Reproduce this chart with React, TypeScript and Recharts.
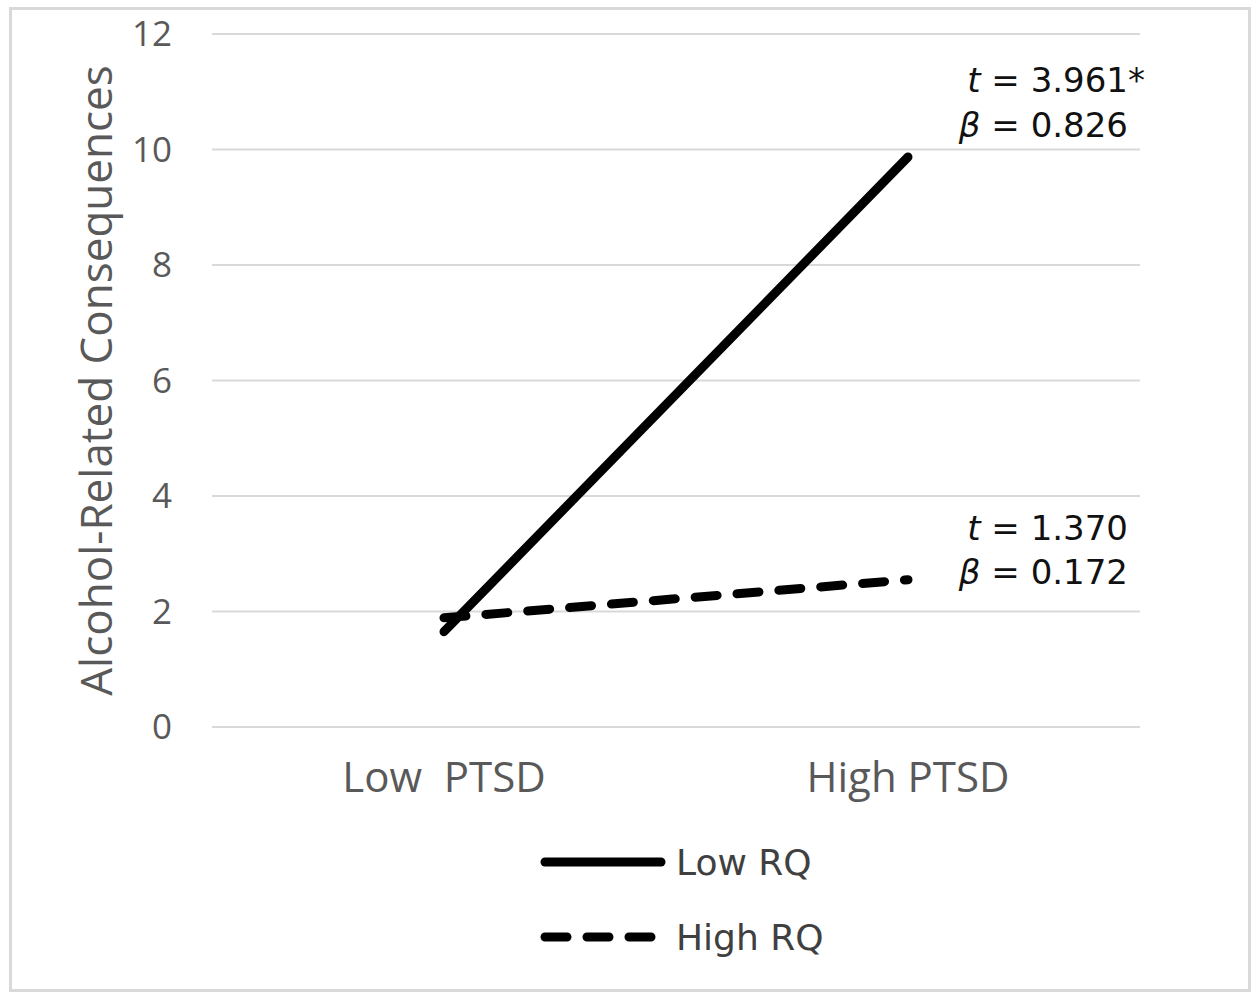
import React from 'react';
import { LineChart, Line, XAxis, YAxis, CartesianGrid, Legend } from 'recharts';

const categories = ['Low\u00a0 PTSD', 'High PTSD'];
const lowRQ = [1.65, 9.87];
const highRQ = [1.89, 2.55];
const yTicks = [0, 2, 4, 6, 8, 10, 12];
const seriesOrder = ['Low RQ', 'High RQ'];

const lowStat = { t: '3.961', star: '*', beta: '0.826' };
const highStat = { t: '1.370', star: '', beta: '0.172' };

const data = categories.map((name, i) => ({ name, low: lowRQ[i], high: highRQ[i] }));

const axisFont = '"Open Sans", sans-serif';
const noteFont = '"DejaVu Sans", sans-serif';

// stat note drawn next to the last point of a series
const makeNote = (stat: typeof lowStat, dy1: number, dy2: number) => (props: any) => {
  const { x, y, index } = props;
  if (index !== data.length - 1) return null;
  const right = x + 220;
  return (
    <g fontFamily={noteFont} fontSize={34} fill="#111">
      <text x={right} y={y + dy1} textAnchor="end">
        <tspan fontStyle="italic">t</tspan> = {stat.t}
      </text>
      {stat.star && (
        <text x={right} y={y + dy1}>{stat.star}</text>
      )}
      <text x={right} y={y + dy2} textAnchor="end">
        <tspan fontStyle="italic">β</tspan> = {stat.beta}
      </text>
    </g>
  );
};

const LegendBox = (props: any) => {
  const items = [...(props.payload || [])].sort(
    (a: any, b: any) => seriesOrder.indexOf(a.value) - seriesOrder.indexOf(b.value)
  );
  return (
    <svg width={400} height={130}>
      {items.map((it: any, i: number) => {
        const y = 27 + i * 75;
        return (
          <g key={it.value}>
            <line
              x1={9}
              x2={i === 0 ? 125 : 115}
              y1={y}
              y2={y}
              stroke="#000"
              strokeWidth={9}
              strokeLinecap="round"
              strokeDasharray={it.payload?.strokeDasharray}
            />
            <text x={140} y={y} dominantBaseline="central" fontFamily={noteFont} fontSize={36} fill="#404040">
              {it.value}
            </text>
          </g>
        );
      })}
    </svg>
  );
};

export default function App() {
  return (
    <div style={{ position: 'absolute', left: 0, top: 0, width: 1260, height: 1001, background: '#fff' }}>
      <div
        style={{
          position: 'absolute',
          left: 9,
          top: 7,
          width: 1242,
          height: 985,
          border: '3px solid #d9d9d9',
          boxSizing: 'border-box',
        }}
      />
      <LineChart width={1260} height={1001} data={data} margin={{ top: 34, right: 120, left: 72, bottom: 214 }}>
        <CartesianGrid vertical={false} stroke="#d9d9d9" strokeWidth={2} />
        <XAxis
          dataKey="name"
          height={60}
          padding={{ left: 232, right: 232 }}
          axisLine={false}
          tickLine={false}
          tickMargin={29}
          tick={{ fill: '#595959', fontSize: 42, fontFamily: axisFont }}
        />
        <YAxis
          width={140}
          domain={[0, 12]}
          ticks={yTicks}
          axisLine={false}
          tickLine={false}
          tickMargin={34}
          tick={{ fill: '#595959', fontSize: 35, fontFamily: axisFont }}
          label={{
            content: (p: any) => {
              const vb = p.viewBox;
              const cx = vb.x + vb.width - 117;
              const cy = vb.y + vb.height / 2;
              return (
                <text
                  x={cx}
                  y={cy}
                  transform={`rotate(-90 ${cx} ${cy})`}
                  textAnchor="middle"
                  dominantBaseline="central"
                  fill="#595959"
                  fontSize={44}
                  fontFamily={axisFont}
                >
                  Alcohol-Related Consequences
                </text>
              );
            },
          }}
        />
        <Legend
          layout="vertical"
          align="center"
          verticalAlign="middle"
          content={<LegendBox />}
          wrapperStyle={{ position: 'absolute', left: 536, top: 835, width: 400 }}
        />
        <Line
          name="Low RQ"
          dataKey="low"
          stroke="#000"
          strokeWidth={9}
          strokeLinecap="round"
          dot={false}
          activeDot={false}
          isAnimationActive={false}
          label={makeNote(lowStat, -65, -20)}
        />
        <Line
          name="High RQ"
          dataKey="high"
          stroke="#000"
          strokeWidth={9}
          strokeLinecap="round"
          strokeDasharray="22 20"
          dot={false}
          activeDot={false}
          isAnimationActive={false}
          label={makeNote(highStat, -40, 4)}
        />
      </LineChart>
    </div>
  );
}
